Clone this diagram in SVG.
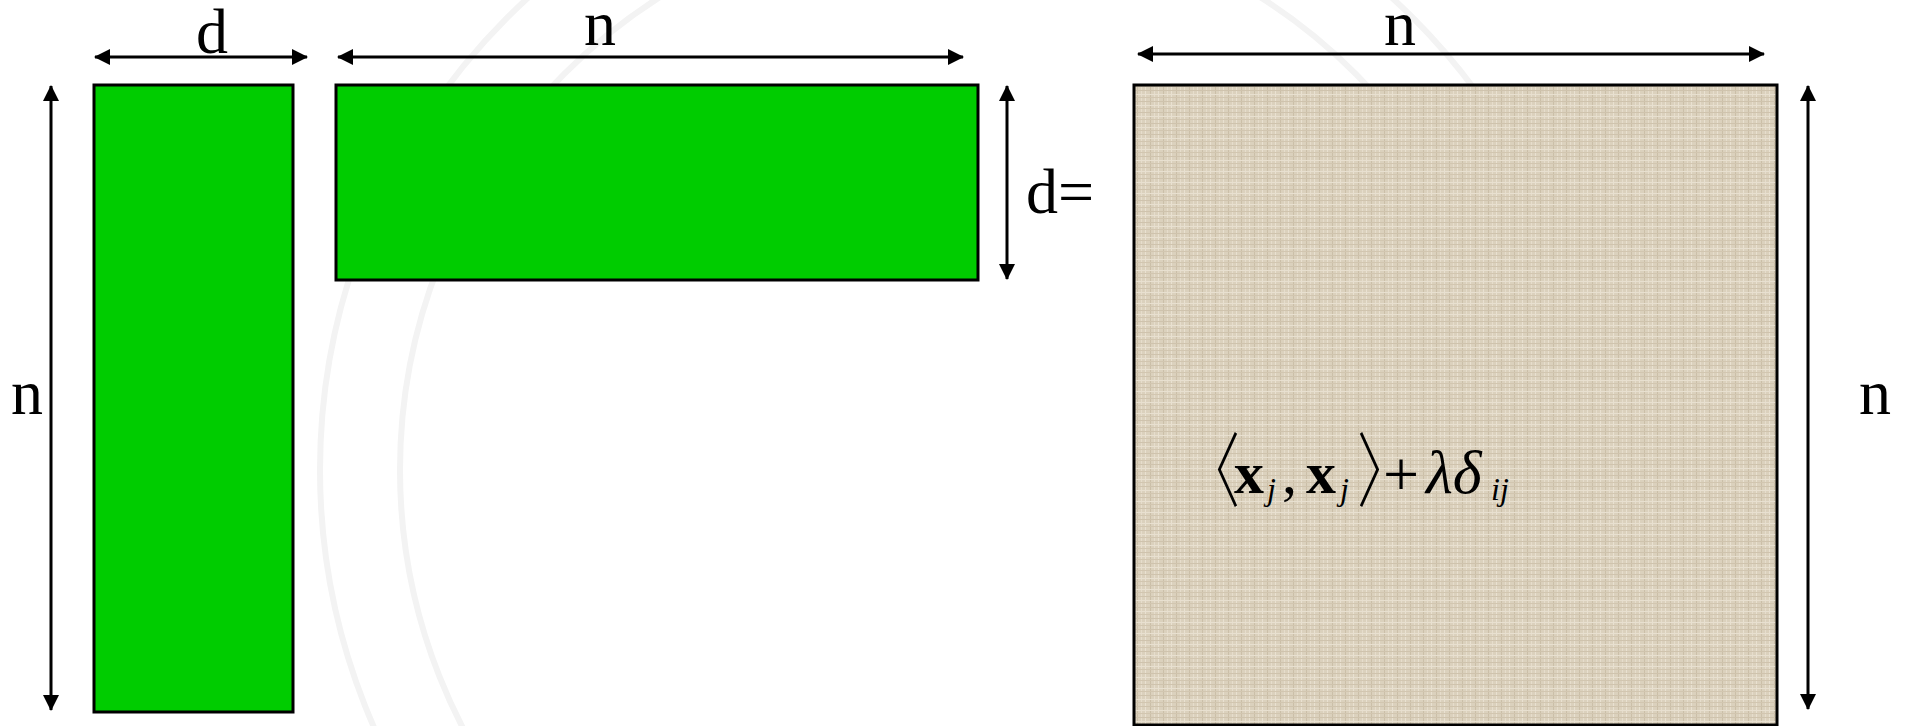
<svg xmlns="http://www.w3.org/2000/svg" width="1908" height="726" viewBox="0 0 1908 726">
<style>
.lbl{font-family:"Liberation Serif","Times New Roman",serif;font-size:64px;fill:#000}
.mat{fill:#00cc00;stroke:#000;stroke-width:3}
.dim{stroke:#000;stroke-width:3;fill:none;marker-start:url(#ah);marker-end:url(#ah)}
.eq{font-family:"Liberation Serif","Times New Roman",serif;fill:#000}
.br{font-family:"Noto Sans CJK SC","Noto Sans CJK JP",sans-serif;font-weight:300;font-size:56px;fill:#000}
.wm{fill:none;stroke:#f3f3f3;stroke-width:6}
</style>
<defs>
<marker id="ah" viewBox="0 0 16 16" refX="15" refY="8" markerWidth="16" markerHeight="16" markerUnits="userSpaceOnUse" orient="auto-start-reverse">
<path d="M0,0 L16,8 L0,16 Z" fill="#000"/>
</marker>
<pattern id="linen" width="13" height="11" patternUnits="userSpaceOnUse">
<rect width="13" height="11" fill="#dbd1bd"/>
<rect x="1" y="0" width="1" height="11" fill="#e9e1d1"/>
<rect x="6" y="0" width="1" height="11" fill="#cbbfa8"/>
<rect x="10" y="0" width="1" height="11" fill="#e6ddcc"/>
<rect x="0" y="2" width="13" height="1" fill="#cfc3ad"/>
<rect x="0" y="6" width="13" height="1" fill="#e8e0d0"/>
<rect x="0" y="9" width="13" height="1" fill="#d2c6b0"/>
</pattern>
</defs>
<rect width="1908" height="726" fill="#ffffff"/>
<g id="watermark">
<circle class="wm" cx="960" cy="470" r="640"/>
<circle class="wm" cx="960" cy="470" r="560"/>
</g>
<g id="matrix-X">
<rect class="mat" x="94" y="85" width="199" height="627"/>
</g>
<g id="matrix-XT">
<rect class="mat" x="336" y="85" width="642" height="195"/>
</g>
<g id="matrix-K">
<rect x="1134" y="85" width="643" height="640" fill="url(#linen)" stroke="#000" stroke-width="3"/>
<text class="br" transform="translate(1184,500) scale(1,1.45)">〈</text>
<text class="eq" x="1234" y="493" font-size="60" font-weight="bold">x</text>
<text class="eq" x="1267" y="500" font-size="32" font-style="italic">j</text>
<text class="eq" x="1282" y="493" font-size="60">,</text>
<text class="eq" x="1306" y="493" font-size="60" font-weight="bold">x</text>
<text class="eq" x="1340" y="500" font-size="32" font-style="italic">j</text>
<text class="br" transform="translate(1357,500) scale(1,1.45)">〉</text>
<text class="eq" x="1383" y="496" font-size="64">+</text>
<text class="eq" x="1426" y="493" font-size="62" font-style="italic">λδ</text>
<text class="eq" x="1491" y="500" font-size="32" font-style="italic">ij</text>
</g>
<g id="connectors">
<line class="dim" x1="95" y1="57" x2="307" y2="57"/>
<line class="dim" x1="338" y1="57" x2="963" y2="57"/>
<line class="dim" x1="1138" y1="54" x2="1764" y2="54"/>
<line class="dim" x1="51" y1="86" x2="51" y2="710"/>
<line class="dim" x1="1007" y1="86" x2="1007" y2="279"/>
<line class="dim" x1="1808" y1="86" x2="1808" y2="709"/>
</g>
<g id="labels">
<text class="lbl" x="212" y="53" text-anchor="middle">d</text>
<text class="lbl" x="600" y="45" text-anchor="middle">n</text>
<text class="lbl" x="1400" y="45" text-anchor="middle">n</text>
<text class="lbl" x="27" y="414" text-anchor="middle">n</text>
<text class="lbl" x="1875" y="414" text-anchor="middle">n</text>
<text class="lbl" x="1026" y="213">d=</text>
</g>
</svg>
